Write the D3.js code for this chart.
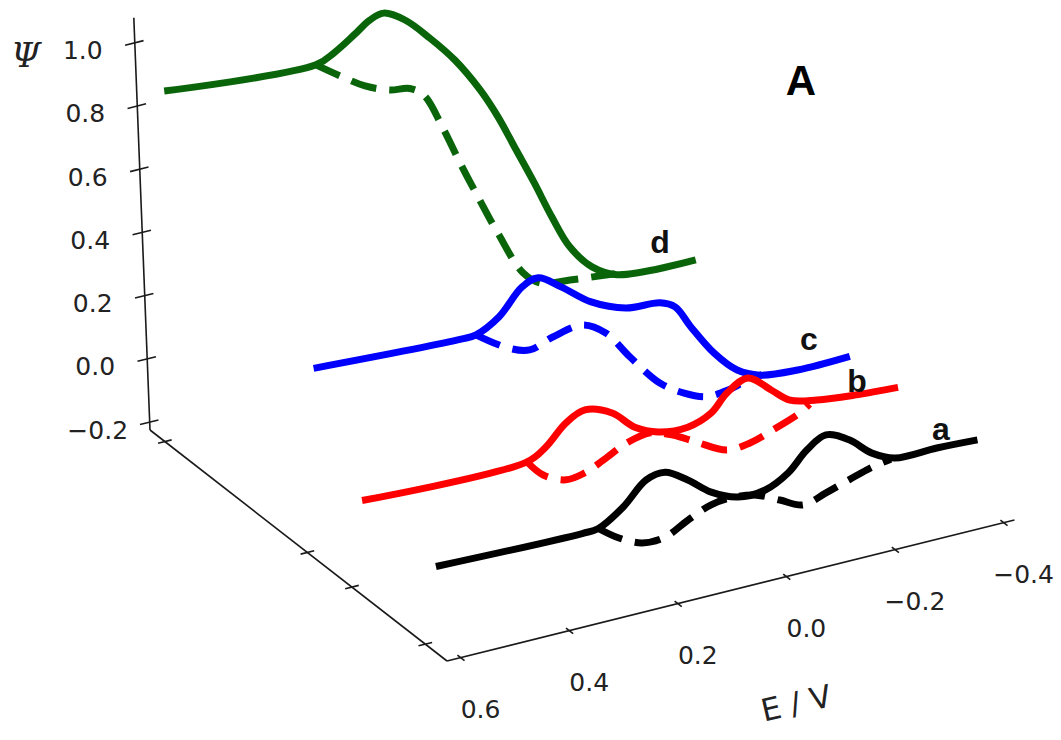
<!DOCTYPE html>
<html><head><meta charset="utf-8">
<script src="https://cdn.jsdelivr.net/npm/d3@7"></script>
<style>body{margin:0;background:#fff}svg{display:block}</style>
</head><body>
<svg id="chart" width="1061" height="740"></svg>
<script>
// ---------------- data ----------------
const eTicks = [0.6, 0.4, 0.2, 0.0, -0.2, -0.4];
const psiTicks = [-0.2, 0.0, 0.2, 0.4, 0.6, 0.8, 1.0];
const depthTicks = [0.05, 0.53, 0.68, 0.927];

const seriesNames = ["d", "c", "b", "a"];
const seriesDepth = [0.05, 0.53, 0.68, 0.927];
const seriesColors = ["#0a650a", "#0000ff", "#ff0000", "#000000"];

// curve a (black)
const aE      = [0.60, 0.33, 0.30, 0.253, 0.209, 0.174, 0.133, 0.091, 0.042, -0.008, -0.051, -0.087, -0.123, -0.165, -0.206, -0.248, -0.325, -0.40];
const aPsi    = [0.00, -0.01, -0.007, 0.039, 0.103, 0.112, 0.072, 0.018, -0.017, -0.016, 0.018, 0.073, 0.104, 0.072, 0.015, -0.017, -0.018, -0.024];
const aDashE  = [0.30, 0.263, 0.221, 0.179, 0.136, 0.092, 0.050, 0.008, -0.034, -0.076, -0.119, -0.162, -0.205, -0.24];
const aDashPsi= [-0.007, -0.051, -0.083, -0.083, -0.049, -0.020, -0.014, -0.025, -0.057, -0.089, -0.070, -0.048, -0.027, -0.017];

// curve b (red)
const bE      = [0.60, 0.292, 0.256, 0.217, 0.181, 0.131, 0.090, 0.047, -0.008, -0.052, -0.083, -0.123, -0.165, -0.199, -0.249, -0.322, -0.40];
const bPsi    = [0.03, 0.023, 0.054, 0.112, 0.137, 0.107, 0.047, 0.015, 0.007, 0.032, 0.081, 0.111, 0.057, 0.012, -0.008, -0.022, -0.031];
const bDashE  = [0.292, 0.263, 0.221, 0.186, 0.150, 0.106, 0.062, 0.020, -0.022, -0.079, -0.122, -0.165, -0.216, -0.235];
const bDashPsi= [0.023, -0.029, -0.061, -0.054, -0.029, 0.005, 0.018, -0.006, -0.044, -0.092, -0.088, -0.066, -0.035, -0.015];

// curve c (blue)
const cE      = [0.60, 0.323, 0.295, 0.251, 0.206, 0.175, 0.133, 0.078, 0.014, -0.050, -0.078, -0.106, -0.147, -0.189, -0.231, -0.302, -0.40];
const cPsi    = [0.333, 0.310, 0.312, 0.349, 0.423, 0.439, 0.394, 0.325, 0.280, 0.270, 0.246, 0.173, 0.076, 0.006, -0.027, -0.040, -0.038];
const cDashE  = [0.295, 0.238, 0.196, 0.152, 0.095, 0.053, 0.010, -0.044, -0.087, -0.129, -0.172, -0.209, -0.235];
const cDashPsi= [0.312, 0.249, 0.225, 0.247, 0.261, 0.219, 0.128, 0.025, -0.023, -0.052, -0.048, -0.032, -0.027];

// curve d (green)
const dE      = [0.60, 0.309, 0.272, 0.233, 0.203, 0.176, 0.136, 0.090, 0.044, -0.002, -0.034, -0.066, -0.098, -0.129, -0.161, -0.202, -0.249, -0.40];
const dPsi    = [0.871, 0.835, 0.860, 0.900, 0.933, 0.944, 0.906, 0.830, 0.742, 0.629, 0.531, 0.414, 0.297, 0.177, 0.069, -0.011, -0.055, -0.070];
const dDashE  = [0.309, 0.264, 0.217, 0.170, 0.132, 0.105, 0.072, 0.040, 0.007, -0.025, -0.070, -0.103, -0.159, -0.245];
const dDashPsi= [0.835, 0.782, 0.731, 0.699, 0.688, 0.655, 0.540, 0.410, 0.285, 0.168, 0.024, -0.022, -0.035, -0.050];

const solidE   = [dE, cE, bE, aE];
const solidPsi = [dPsi, cPsi, bPsi, aPsi];
const dashE    = [dDashE, cDashE, bDashE, aDashE];
const dashPsi  = [dDashPsi, cDashPsi, bDashPsi, aDashPsi];

// ---------------- projection (3-D box -> screen) ----------------
const eScale = d3.scaleLinear().domain([0.625, -0.42]).range([0, 1.045]);
const psiScale = d3.scaleLinear().domain([-0.225, 1.079]).range([0, 1.304]);
const depthScale = d3.scaleLinear().domain([0, 1]).range([0, 1]);
const perspScale = d3.scaleLinear().domain([0, 1]).range([0.955, 1]);
const B = [150, 430], vD = [297, 231], vE = [543, -135], vP = [-13, -331];
function proj(E, dep, psi) {
  const t = depthScale(dep), s = perspScale(t), u = eScale(E), p = psiScale(psi);
  return [B[0] + vD[0]*t + s*(vE[0]*u + vP[0]*p),
          B[1] + vD[1]*t + s*(vE[1]*u + vP[1]*p)];
}
const E0 = eScale.domain()[0], E1 = eScale.domain()[1];
const Z0 = psiScale.domain()[0], Z1 = psiScale.domain()[1];

const svg = d3.select("#chart");
const fmt = d3.format(".1f");
const axisCol = "#1a1a1a";

// axes lines
const axes = svg.append("g").attr("stroke", axisCol).attr("stroke-width", 1.6).attr("fill", "none");
const axisLine = (p, q) => axes.append("line").attr("x1", p[0]).attr("y1", p[1]).attr("x2", q[0]).attr("y2", q[1]);
axisLine(proj(E0, 0, Z0), proj(E0, 0, Z1));
axisLine(proj(E0, 0, Z0), proj(E0, 1, Z0));
axisLine(proj(E0, 1, Z0), proj(E1, 1, Z0));

// unit vectors
const ue = [0.970, -0.241], ud = [0.789, 0.614];
psiTicks.forEach(v => {
  const p = proj(E0, 0, v);
  axes.append("line").attr("x1", p[0] - 10*ue[0]).attr("y1", p[1] - 10*ue[1])
      .attr("x2", p[0] + 9*ue[0]).attr("y2", p[1] + 9*ue[1]);
  svg.append("text").attr("x", p[0] - 52).attr("y", p[1] + 8)
     .attr("text-anchor", "middle").attr("dominant-baseline", "central")
     .attr("font-family", "DejaVu Sans").attr("font-size", 25).attr("fill", "#222")
     .text(fmt(v));
});
eTicks.forEach(v => {
  const p = proj(v, 1, Z0);
  axes.append("line").attr("x1", p[0] - 4*ud[0]).attr("y1", p[1] - 4*ud[1])
      .attr("x2", p[0] + 5*ud[0]).attr("y2", p[1] + 5*ud[1]);
  svg.append("text").attr("x", p[0] + 20).attr("y", p[1] + 52)
     .attr("text-anchor", "middle").attr("dominant-baseline", "central")
     .attr("font-family", "DejaVu Sans").attr("font-size", 25).attr("fill", "#222")
     .text(fmt(v));
});
depthTicks.forEach(v => {
  const p = proj(E0, v, Z0);
  axes.append("line").attr("x1", p[0] - 7*ue[0]).attr("y1", p[1] - 7*ue[1])
      .attr("x2", p[0] + 7*ue[0]).attr("y2", p[1] + 7*ue[1]);
});

// axis titles
svg.append("text").attr("x", 26).attr("y", 55).attr("text-anchor", "middle").attr("dominant-baseline", "central")
   .attr("font-family", "DejaVu Serif").attr("font-style", "italic").attr("font-size", 34).attr("fill", "#222").text("Ψ");
svg.append("text").attr("transform", "translate(796,703) rotate(-13)").attr("text-anchor", "middle")
   .attr("dominant-baseline", "central").attr("font-family", "DejaVu Sans").attr("font-size", 31).attr("fill", "#222").text("E / V");
svg.append("text").attr("x", 801).attr("y", 95).attr("text-anchor", "middle")
   .attr("font-family", "Liberation Sans").attr("font-weight", "bold").attr("font-size", 42).attr("fill", "#000").text("A");

// curves
const line = d3.line().curve(d3.curveCatmullRom.alpha(0.5));
seriesNames.forEach((name, i) => {
  const dep = seriesDepth[i];
  const dashPts = dashE[i].map((e, k) => proj(e, dep, dashPsi[i][k]));
  const solidPts = solidE[i].map((e, k) => proj(e, dep, solidPsi[i][k]));
  svg.append("path").attr("d", line(dashPts)).attr("fill", "none")
     .attr("stroke", seriesColors[i]).attr("stroke-width", 7)
     .attr("stroke-dasharray", "26,13").attr("stroke-linecap", "butt");
  svg.append("path").attr("d", line(solidPts)).attr("fill", "none")
     .attr("stroke", seriesColors[i]).attr("stroke-width", 7)
     .attr("stroke-linejoin", "round").attr("stroke-linecap", "butt");
});

// curve labels
const labelSpec = [["d", 660, 253], ["c", 809, 350], ["b", 857, 392], ["a", 941, 440]];
labelSpec.forEach(([t, x, y]) => {
  svg.append("text").attr("x", x).attr("y", y).attr("text-anchor", "middle")
     .attr("font-family", "Liberation Sans").attr("font-weight", "bold").attr("font-size", 32).attr("fill", "#111").text(t);
});
</script>
</body></html>
